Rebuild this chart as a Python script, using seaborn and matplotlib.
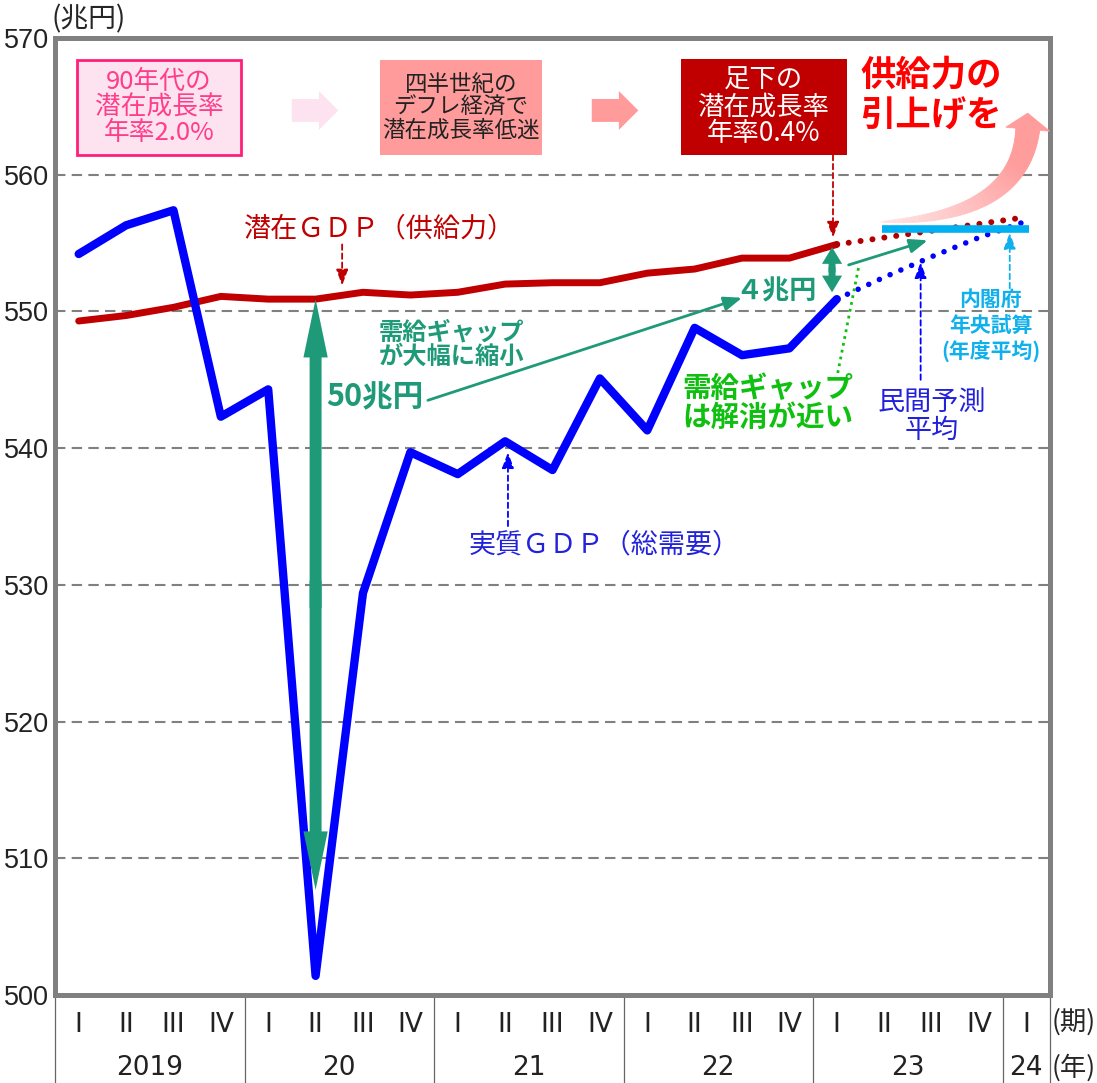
import numpy as np
import pandas as pd
import matplotlib
matplotlib.use("Agg")
import matplotlib.pyplot as plt
import matplotlib.transforms as mtransforms
from matplotlib.patches import Rectangle, FancyArrowPatch, Polygon
from matplotlib.colors import to_rgb
import seaborn as sns

# data (兆円, quarterly)
quarters = ["I", "II", "III", "IV"] * 5 + ["I"]
years = ["2019", "20", "21", "22", "23", "24"]
year_quarters = [4, 4, 4, 4, 4, 1]

real_gdp = [554.2, 556.3, 557.4, 542.3, 544.3, 501.4, 529.4, 539.7, 538.1,
            540.5, 538.4, 545.1, 541.3, 548.8, 546.8, 547.3, 550.9]
real_gdp_forecast = [550.9, 552.5, 554.0, 555.4, 556.6]
potential_gdp = [549.3, 549.7, 550.3, 551.1, 550.9, 550.9, 551.4, 551.2, 551.4,
                 552.0, 552.1, 552.1, 552.8, 553.1, 553.9, 553.9, 554.9]
potential_gdp_forecast = [554.9, 555.4, 555.9, 556.4, 556.9]
cabinet_estimate = 556.0

BLUE = "#0000ff"
RED = "#c00000"
TEAL = "#1f9a78"
GREEN = "#10c010"
CYAN = "#0fb0ec"
GRAY = "#808080"

sns.set_theme(style="white")
plt.rcParams['font.family'] = ['Noto Sans CJK JP', 'DejaVu Sans']

fig = plt.figure(figsize=(10.97, 10.83), dpi=100)
ax = fig.add_axes([55 / 1097, 88 / 1083, 995 / 1097, 957 / 1083])

n_act = len(real_gdp)
x_act = np.arange(n_act)
x_fc = np.arange(n_act - 1, n_act - 1 + len(real_gdp_forecast))

# Step 1: lines
sns.lineplot(x=x_act, y=potential_gdp, color=RED, lw=5, ax=ax, zorder=4)
sns.lineplot(x=x_act, y=real_gdp, color=BLUE, lw=6, ax=ax, zorder=5)
sns.lineplot(x=x_fc, y=potential_gdp_forecast, color="#b00000", lw=4.3, ax=ax,
             ls=(0, (0.01, 2.0)), dash_capstyle="round", zorder=4)
sns.lineplot(x=x_fc, y=real_gdp_forecast, color=BLUE, lw=4.0, ax=ax,
             ls=(0, (0.01, 2.1)), dash_capstyle="round", zorder=4)
ax.plot([x_fc[1] - 0.05, x_fc[-1] + 0.05], [cabinet_estimate] * 2, color="#00b0f0",
        lw=5.5, solid_capstyle="butt", zorder=6)

ax.set_xlim(-0.5, 20.5)
ax.set_ylim(500, 570)

# Step 2: frame, grid and ticks
for s in ax.spines.values():
    s.set_color(GRAY)
    s.set_linewidth(3.6)
ax.set_yticks(range(500, 571, 10))
ax.set_yticklabels([str(v) for v in range(500, 571, 10)], fontfamily="Liberation Sans",
                   fontsize=19.5, color="#222222")
for v in range(510, 561, 10):
    ax.axhline(v, color=GRAY, lw=1.5, ls=(0, (5, 3)), zorder=1)
ax.set_xticks(range(len(quarters)))
ax.set_xticklabels(quarters, fontfamily="Liberation Sans Narrow", fontsize=19, color="#222222")
ax.tick_params(axis="x", length=0, pad=12)
ax.tick_params(axis="y", length=0, pad=4)

trans = mtransforms.blended_transform_factory(ax.transData, ax.transAxes)
edges = np.concatenate([[0], np.cumsum(year_quarters)]) - 0.5
for e in edges:
    ax.plot([e, e], [0, -0.095], transform=trans, clip_on=False, color="#666666", lw=0.9)
for i, yr in enumerate(years):
    ax.text((edges[i] + edges[i + 1]) / 2, -0.076, yr, transform=trans, ha="center",
            va="center", fontfamily="Liberation Sans Narrow", fontsize=19, color="#222222")
ax.text(1.024, -0.028, "(期)", transform=ax.transAxes, ha="center", va="center", fontsize=19)
ax.text(1.024, -0.076, "(年)", transform=ax.transAxes, ha="center", va="center", fontsize=19)
ax.text(-0.004, 1.019, "(兆円)", transform=ax.transAxes, ha="left", va="center", fontsize=20)

# Step 3: boxes on top
boxes = [
    ((-0.04, 561.45), 3.47, 6.95, "#fde2ef", "#ff1f7a", "90年代の\n潜在成長率\n年率2.0%", "#ff3d8b", 18.5),
    ((6.36, 561.45), 3.42, 6.95, "#ff9b9b", "none", "四半世紀の\nデフレ経済で\n潜在成長率低迷", "#222222", 16.2),
    ((12.71, 561.45), 3.50, 7.05, RED, "none", "足下の\n潜在成長率\n年率0.4%", "white", 19),
]
for (x0, y0), w, h, fc, ec, txt, tc, fs in boxes:
    ax.add_patch(Rectangle((x0, y0), w, h, fc=fc, ec=ec, lw=2, zorder=7))
    ax.text(x0 + w / 2, y0 + h / 2, txt, ha="center", va="center", fontsize=fs,
            color=tc, linespacing=0.98, zorder=8)

for (xa, xb), c in [((4.44, 5.54), "#fde2ef"), ((10.77, 11.87), "#ff9b9b")]:
    ax.add_patch(FancyArrowPatch((xa, 564.7), (xb, 564.7), arrowstyle="simple,head_length=1.4,head_width=2.8,tail_width=1.65",
                                 mutation_scale=10, fc=c, ec="none", zorder=7))

ax.text(16.5, 565.8, "供給力の\n引上げを", ha="left", va="center", fontsize=25.5,
        fontweight="bold", color="#ff0000", linespacing=1.22, zorder=8)

# curved pink arrow, tapering tail, drawn in pixel space
p0 = ax.transData.transform((16.93, 556.55))
tip = ax.transData.transform((20.03, 564.5))
head_len, head_w, max_w = 16.0, 44.0, 24.0
p2 = tip - np.array([0, head_len])
p1 = np.array([p2[0] - 8, p0[1] + 4])
ts = np.linspace(0, 1, 61)
pts = np.array([(1 - t) ** 2 * p0 + 2 * (1 - t) * t * p1 + t ** 2 * p2 for t in ts])
der = np.array([2 * (1 - t) * (p1 - p0) + 2 * t * (p2 - p1) for t in ts])
nrm = np.stack([-der[:, 1], der[:, 0]], axis=1)
nrm /= np.linalg.norm(nrm, axis=1, keepdims=True)
half = max_w / 2 * ts ** 0.7
left = pts + nrm * half[:, None]
right = pts - nrm * half[:, None]
c_light, c_dark = np.array(to_rgb("#ffe4e4")), np.array(to_rgb("#ff9c9c"))
for k in range(len(ts) - 1):
    col = c_light + (c_dark - c_light) * min(1, ts[k] * 1.3)
    quad = [left[k], left[k + 1], right[k + 1], right[k]]
    ax.add_patch(Polygon(quad, closed=True, fc=col, ec=col, lw=0.6,
                         transform=mtransforms.IdentityTransform(), zorder=3))
d = der[-1] / np.linalg.norm(der[-1])
n_end = np.array([-d[1], d[0]])
head = [p2 + n_end * head_w / 2, tip, p2 - n_end * head_w / 2]
ax.add_patch(Polygon(head, closed=True, fc=c_dark, ec=c_dark, lw=0.6,
                     transform=mtransforms.IdentityTransform(), zorder=3))

# Step 4: gap arrows (two heads drawn from an overlapping middle)
mid = (550.9 + 507.7) / 2
for end, off in ((550.9, -1.0), (507.7, 1.0)):
    ax.add_patch(FancyArrowPatch((5, mid + off), (5, end), arrowstyle="simple,head_length=4.2,head_width=1.75,tail_width=0.86",
                                 mutation_scale=10, fc=TEAL, ec="none", shrinkA=0, shrinkB=0, zorder=6))
mid2 = (554.7 + 551.4) / 2
for end, off in ((554.7, -0.2), (551.4, 0.2)):
    ax.add_patch(FancyArrowPatch((15.9, mid2 + off), (15.9, end), arrowstyle="simple,head_length=1.2,head_width=1.45,tail_width=0.5",
                                 mutation_scale=10, fc=TEAL, ec="none", shrinkA=0, shrinkB=0, zorder=6))

ax.annotate("", xy=(14.0, 551.0), xytext=(7.37, 543.5),
            arrowprops=dict(arrowstyle="-|>,head_length=0.9,head_width=0.35", color=TEAL, lw=2, shrinkA=0, shrinkB=0), zorder=6)
ax.annotate("", xy=(17.92, 555.2), xytext=(16.25, 553.4),
            arrowprops=dict(arrowstyle="-|>,head_length=0.9,head_width=0.35", color=TEAL, lw=2, shrinkA=0, shrinkB=0), zorder=6)
ax.plot([16.02, 16.47], [545.5, 553.4], color=GREEN, lw=2, ls=(0, (1, 1.5)), zorder=6)

ax.text(6.25, 543.7, "50兆円", ha="center", va="center", fontsize=22, fontweight="bold", color=TEAL, zorder=8)
ax.text(14.72, 551.5, "４兆円", ha="center", va="center", fontsize=19.5, fontweight="bold", color=TEAL, zorder=8)
ax.text(6.34, 547.6, "需給ギャップ\nが大幅に縮小", ha="left", va="center", fontsize=17.5,
        fontweight="bold", color=TEAL, linespacing=1.02, zorder=8)
ax.text(14.55, 543.3, "需給ギャップ\nは解消が近い", ha="center", va="center", fontsize=20.5,
        fontweight="bold", color=GREEN, linespacing=1.05, zorder=8)
ax.text(18.0, 542.3, "民間予測\n平均", ha="center", va="center", fontsize=19.5, color="#2222dd",
        linespacing=1.05, zorder=8)
ax.text(19.25, 548.95, "内閣府\n年央試算\n(年度平均)", ha="center", va="center", fontsize=15,
        fontweight="bold", color=CYAN, linespacing=1.28, zorder=8)
ax.text(6.36, 556.0, "潜在ＧＤＰ（供給力）", ha="center", va="center", fontsize=19.5, color=RED, zorder=8)
ax.text(11.1, 532.9, "実質ＧＤＰ（総需要）", ha="center", va="center", fontsize=19.5, color="#2222dd", zorder=8)

# Step 5: dashed pointers
pointers = [
    ((5.56, 554.9), (5.56, 551.9), RED),
    ((15.92, 561.45), (15.92, 555.4), RED),
    ((9.06, 534.3), (9.06, 539.7), BLUE),
    ((17.77, 545.0), (17.77, 553.6), BLUE),
    ((19.65, 551.7), (19.65, 555.75), CYAN),
]
for start, end, c in pointers:
    ax.annotate("", xy=end, xytext=start,
                arrowprops=dict(arrowstyle="-|>,head_length=0.8,head_width=0.3", color=c, lw=1.3,
                                ls=(0, (3, 2)), shrinkA=0, shrinkB=0), zorder=6)

fig.savefig("out.png", dpi=100)
